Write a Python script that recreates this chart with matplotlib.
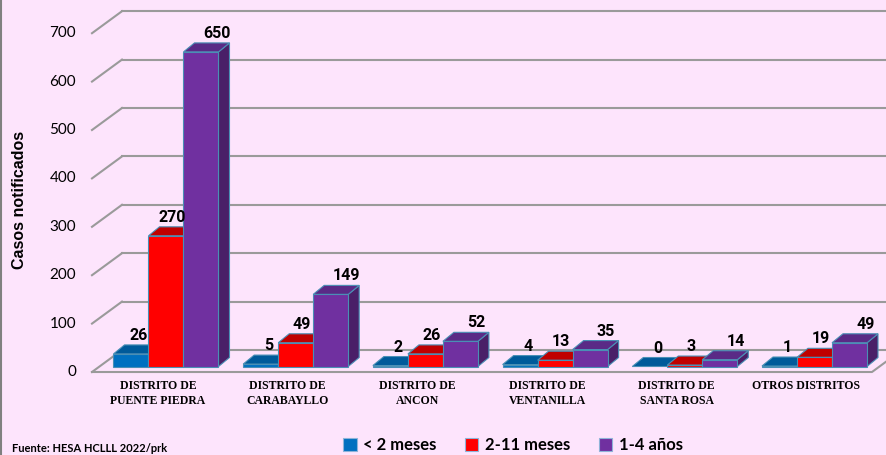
import numpy as np
import matplotlib
matplotlib.use('Agg')
from matplotlib import pyplot as plt
from matplotlib.patches import Polygon, Patch

distritos = ['DISTRITO DE\nPUENTE PIEDRA', 'DISTRITO DE\nCARABAYLLO', 'DISTRITO DE\nANCON',
             'DISTRITO DE\nVENTANILLA', 'DISTRITO DE\nSANTA ROSA', 'OTROS DISTRITOS']
series = ['< 2 meses', '2-11 meses', '1-4 años']
menos_2m = [26, 5, 2, 4, 0, 1]
de_2_11m = [270, 49, 26, 13, 3, 19]
de_1_4a = [650, 149, 52, 35, 14, 49]
yticks = [0, 100, 200, 300, 400, 500, 600, 700]
fuente = 'Fuente: HESA HCLLL 2022/prk'

front_col = ['#0070c0', '#ff0000', '#7030a0']
top_col = ['#005a9a', '#c00000', '#5a2a86']
side_col = ['#00508a', '#a80000', '#4a1f68']
edge = '#4a8fb5'
bg = '#fde4fc'
grid = '#9a9a9a'

# pixel geometry -> data units
W, H = 887, 455
spacing = 129.7      # px between groups
x0 = 166             # px centre of first group
s = 0.484            # px per case
base = 366.5         # px of value 0 at the bars

def xd(px):
    return (px - x0) / spacing

def yd(py):
    return (base - py) / s

fig = plt.figure(figsize=(W / 100, H / 100), dpi=100)
fig.patch.set_facecolor(bg)
ax = fig.add_axes([0, 0, 1, 1])
ax.set_facecolor(bg)
ax.set_xlim(xd(0), xd(W))
ax.set_ylim(yd(H), yd(0))
ax.axis('off')

# walls: back gridlines + left diagonals
wall_dx = 30 / spacing
wall_dy = 22 / s
fl_front = yd(372)
for v in yticks:
    yf = fl_front + v
    ax.plot([xd(92), xd(92) + wall_dx], [yf, yf + wall_dy], color=grid, lw=1.5, zorder=1)
    ax.plot([xd(92) + wall_dx, xd(W + 5)], [yf + wall_dy, yf + wall_dy], color=grid, lw=1.5, zorder=1)
    ax.text(xd(76), yf, str(v), ha='right', va='center', fontsize=11,
            family=['Lato', 'DejaVu Sans'], color='black')
# floor front edge
ax.plot([xd(92), xd(872), xd(872) + wall_dx], [fl_front, fl_front, fl_front + wall_dy],
        color=grid, lw=1.5, zorder=1)

# 3d bars
width = 35 / spacing
ddx = 11 / spacing
ddy = 9 / s
lab_off = [8 / spacing, 6 / spacing, 16 / spacing]
data = [menos_2m, de_2_11m, de_1_4a]
idx = np.arange(len(distritos))
z = 2
for i in idx:
    for k in range(3):
        v = data[k][i]
        left = i + (k - 1.5) * width
        right = left + width
        side = Polygon([(right, 0), (right + ddx, ddy), (right + ddx, v + ddy), (right, v)],
                       closed=True, facecolor=side_col[k], edgecolor=edge, lw=0.8, zorder=z)
        top = Polygon([(left, v), (left + ddx, v + ddy), (right + ddx, v + ddy), (right, v)],
                      closed=True, facecolor=top_col[k], edgecolor=edge, lw=0.8, zorder=z)
        ax.add_patch(side)
        ax.add_patch(top)
        if v > 0:
            ax.bar(left, v, width=width, align='edge', color=front_col[k], edgecolor=edge,
                   lw=0.8, zorder=z)
        ax.text(left + width / 2 + lab_off[k], v + ddy + 4, str(v), ha='center', va='bottom',
                fontsize=11.5, fontweight='bold',
                family=['Liberation Sans Narrow', 'Roboto', 'DejaVu Sans'], zorder=50)
        z += 1
    ax.text(i - 8 / spacing, yd(380), distritos[i], ha='center', va='top', fontsize=8.5,
            fontweight='bold', family=['Liberation Serif', 'DejaVu Serif'], linespacing=1.3)

fig.text(20 / W, 1 - 200 / H, 'Casos notificados', rotation=90, ha='center', va='center',
         fontsize=11.5, fontweight='bold', family=['Liberation Sans', 'DejaVu Sans'])

handles = [Patch(facecolor=front_col[k], edgecolor='#8fb4d8', lw=0.8) for k in range(3)]
fig.legend(handles, series, loc='center', bbox_to_anchor=(513 / W, 1 - 445 / H), ncol=3,
           frameon=False, handlelength=0.8, handleheight=0.8, handletextpad=0.4,
           columnspacing=1.7, prop={'family': ['Lato', 'DejaVu Sans'], 'weight': 'bold', 'size': 12})

fig.text(12 / W, 1 - 454 / H, fuente, ha='left', va='bottom', fontsize=8, fontweight='bold',
         family=['Lato', 'DejaVu Sans'])

# left border line
fig.add_artist(plt.Line2D([1.5 / W, 1.5 / W], [0, 1], color='#808080', lw=1.5))

fig.savefig('out.png', dpi=100, facecolor=bg)
